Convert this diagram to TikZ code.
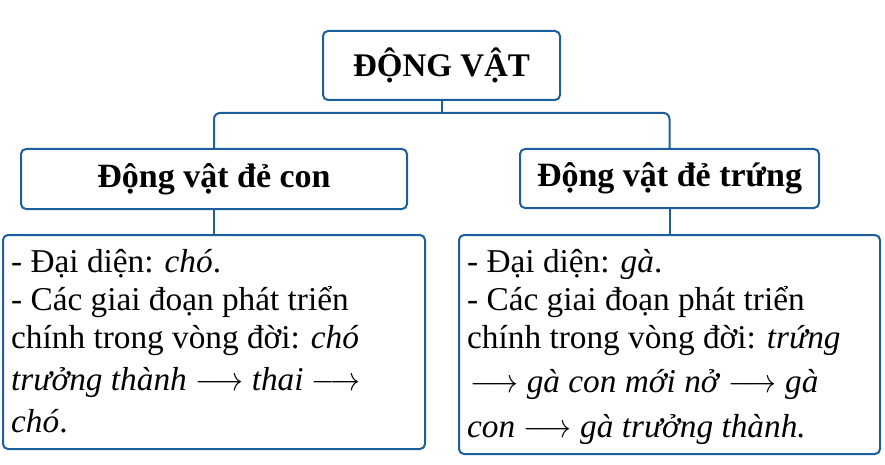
\RequirePackage{fix-cm}
\documentclass[tikz,border=0pt]{standalone}
\usepackage{fontspec}
\usepackage{graphicx}
\setmainfont{Liberation Serif}
\definecolor{boxblue}{RGB}{28,94,158}
\newcommand\myarrow{\scalebox{0.9}[1]{$\longrightarrow$}}
\tikzset{
  box/.style={draw=boxblue, line width=2pt, rounded corners=5pt, fill=white, inner sep=0pt},
  titletext/.style={font=\fontsize{34}{38}\selectfont\bfseries},
  bodytext/.style={anchor=base west, inner sep=0pt, font=\fontsize{33.3}{38}\selectfont},
  conn/.style={draw=boxblue, line width=2pt},
}
\begin{document}
\begin{tikzpicture}[x=1pt,y=-1pt]
\useasboundingbox (0,0) rectangle (885,465);
% boxes
\node[box, font=\fontsize{33}{38}\selectfont\bfseries, minimum width=237, minimum height=69] (top) at (441.5,65.5) {ĐỘNG VẬT};
\node[box, titletext, minimum width=386, minimum height=60] (lc) at (214,179) {Động vật đẻ con};
\node[box, titletext, minimum width=299, minimum height=59] (rc) at (669.5,178.5) {Động vật đẻ trứng};
\node[box, minimum width=422, minimum height=214] (lb) at (214,342) {};
\node[box, minimum width=421, minimum height=219] (rb) at (669.5,344.5) {};
% connectors
\coordinate (bus) at (441.5,113);
\draw[conn] (top.south) -- (top.south |- bus);
\draw[conn, rounded corners=6pt] (lc.north) |- (rc.north |- bus) -- (rc.north);
\draw[conn] (lc.south) -- (lb.north);
\draw[conn] (rc.south) -- (rb.north);
% left body text
\node[bodytext] (l1) at (11,272) {- Đại diện: \textit{chó}.};
\node[bodytext] (l2) at (11,310) {- Các giai đoạn phát triển};
\node[bodytext] (l3) at (11,348) {chính trong vòng đời: \textit{chó}};
\node[bodytext] (l4) at (11,390) {\textit{trưởng thành} \myarrow{} \textit{thai} \myarrow};
\node[bodytext] (l5) at (11,432) {\textit{chó}.};
% right body text
\node[bodytext] (r1) at (467,272) {- Đại diện: \textit{gà}.};
\node[bodytext] (r2) at (467,310) {- Các giai đoạn phát triển};
\node[bodytext] (r3) at (467,348) {chính trong vòng đời: \textit{trứng}};
\node[bodytext] (r4) at (470,392) {\myarrow{} \textit{gà con mới nở} \myarrow{} \textit{gà}};
\node[bodytext] (r5) at (467,437) {\textit{con} \myarrow{} \textit{gà trưởng thành.}};
\end{tikzpicture}
\end{document}
